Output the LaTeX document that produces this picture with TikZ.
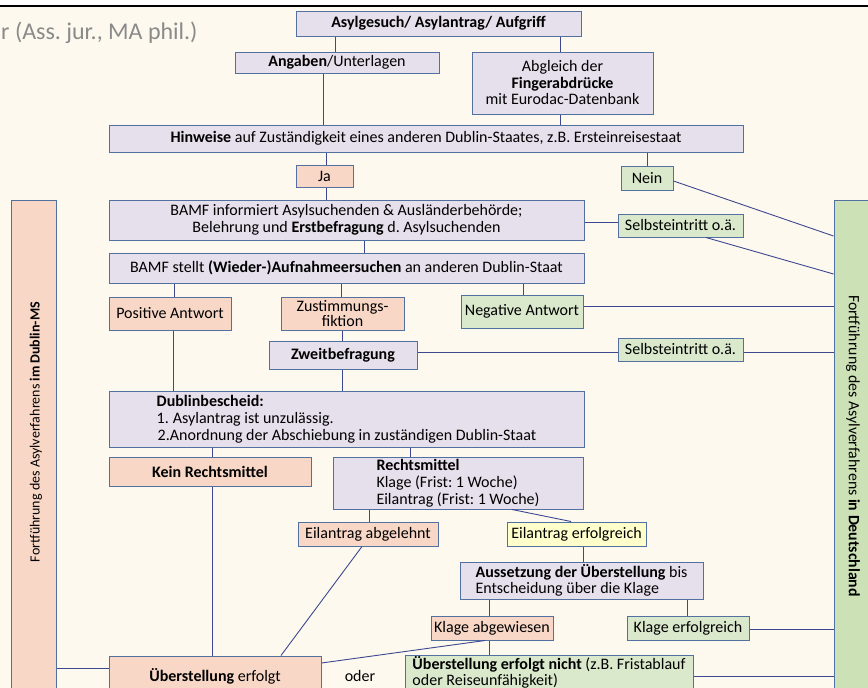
\documentclass[tikz,border=0pt]{standalone}
\usepackage{fontspec}
\setmainfont{Carlito}
\frenchspacing
\definecolor{bg}{HTML}{FEF9EF}
\definecolor{lav}{HTML}{E6E0EC}
\definecolor{sal}{HTML}{F8D7C6}
\definecolor{grn}{HTML}{DAE8CC}
\definecolor{grnbar}{HTML}{CDE1B6}
\definecolor{yel}{HTML}{FFFFCC}
\definecolor{bord}{HTML}{5270A0}
\definecolor{conn}{HTML}{3C4890}
\definecolor{hdr}{HTML}{8A8A8A}
\newcommand\vcon[3]{\draw[conline] (#1,0 |- #2.south) -- (#1,0 |- #3.north);}
\begin{document}
\frenchspacing
\begin{tikzpicture}[x=1pt,y=-1pt,
  box/.style={draw=bord, line width=1pt, inner sep=0pt, align=center, font=\fontsize{16}{16.5}\selectfont},
  lavbox/.style={box, fill=lav},
  salbox/.style={box, fill=sal},
  grnbox/.style={box, fill=grn},
  yelbox/.style={box, fill=yel},
  conline/.style={draw=conn, line width=0.9pt},
  bartext/.style={inner sep=0pt, font=\fontsize{14}{16}\selectfont}]
\useasboundingbox (0,0) rectangle (868,688);
\clip (0,0) rectangle (868,688);
\fill[white] (0,0) rectangle (868,7);
\fill[bg] (0,7) rectangle (868,688);
\draw[black, line width=2.5pt] (0,6) -- (868,6);
\node[anchor=west, inner sep=0pt, text=hdr, font=\fontsize{24}{28}\selectfont] (hdr) at (1,33) {r (Ass. jur., MA phil.)};

% side bars
\node[salbox, minimum width=45, minimum height=520] (lb) at (33.5,460) {};
\node[bartext, rotate=90] (lbt) at (36,432) {Fortführung des Asylverfahrens \textbf{im Dublin-MS}};
\node[box, fill=grnbar, minimum width=46, minimum height=520] (rb) at (857,460) {};
\node[bartext, rotate=-90, font=\fontsize{15.8}{17}\selectfont] (rbt) at (853,446) {Fortführung des Asylverfahrens \textbf{in Deutschland}};

% boxes
\node[lavbox, minimum width=285, minimum height=25] (asyl) at (438.5,23.5) {\textbf{Asylgesuch/ Asylantrag/ Aufgriff}};
\node[lavbox, minimum width=204, minimum height=21] (angaben) at (337,62.5) {\textbf{Angaben}/Unterlagen};
\node[lavbox, minimum width=181, minimum height=62] (abgleich) at (562.5,83) {Abgleich der\\\textbf{Fingerabdrücke}\\mit Eurodac-Datenbank};
\node[lavbox, minimum width=634, minimum height=27] (hinweise) at (426,138.5) {\textbf{Hinweise} auf Zuständigkeit eines anderen Dublin-Staates, z.B. Ersteinreisestaat};
\node[salbox, minimum width=57, minimum height=22] (ja) at (324.5,176) {Ja};
\node[grnbox, minimum width=52, minimum height=24] (nein) at (647,178) {Nein};
\node[lavbox, minimum width=475, minimum height=40] (bamf1) at (346.5,220) {BAMF informiert Asylsuchenden \& Ausländerbehörde;\\Belehrung und \textbf{Erstbefragung} d. Asylsuchenden};
\node[grnbox, minimum width=125, minimum height=23] (selbst1) at (680.5,225.5) {Selbsteintritt o.ä.};
\node[lavbox, minimum width=475, minimum height=30] (bamf2) at (346.5,268) {BAMF stellt \textbf{(Wieder-)Aufnahmeersuchen} an anderen Dublin-Staat};
\node[salbox, minimum width=122, minimum height=33] (pos) at (170,313.5) {Positive Antwort};
\node[salbox, minimum width=123, minimum height=33, font=\fontsize{16}{15.5}\selectfont] (zust) at (342.5,313.5) {Zustimmungs-\\fiktion};
\node[grnbox, minimum width=122, minimum height=33] (neg) at (522,311.5) {Negative Antwort};
\node[lavbox, minimum width=148, minimum height=28] (zweit) at (343,355) {\textbf{Zweitbefragung}};
\node[grnbox, minimum width=125, minimum height=23] (selbst2) at (680.5,349.5) {Selbsteintritt o.ä.};
\node[lavbox, minimum width=475, minimum height=56, align=left, font=\fontsize{16}{17}\selectfont] (dublin) at (346.5,419.5) {\textbf{Dublinbescheid:}\\1.\hspace{4pt}Asylantrag ist unzulässig.\\\hspace{1pt}2.Anordnung der Abschiebung in zuständigen Dublin-Staat};
\node[salbox, minimum width=202, minimum height=29] (kein) at (210,471.5) {\textbf{Kein Rechtsmittel}};
\node[lavbox, minimum width=250, minimum height=52, align=left, font=\fontsize{16}{17}\selectfont] (rechts) at (458,483) {\textbf{Rechtsmittel}\\Klage (Frist: 1 Woche)\\Eilantrag (Frist: 1 Woche)};
\node[salbox, minimum width=140, minimum height=24] (eilab) at (368,534) {Eilantrag abgelehnt};
\node[yelbox, minimum width=139, minimum height=24] (eilerf) at (576.5,534) {Eilantrag erfolgreich};
\node[lavbox, minimum width=243, minimum height=37, align=left, font=\fontsize{16}{15.5}\selectfont] (aussetz) at (581.5,580.5) {\textbf{Aussetzung der Überstellung} bis\\Entscheidung über die Klage};
\node[salbox, minimum width=122, minimum height=24] (klageab) at (492,628) {Klage abgewiesen};
\node[grnbox, minimum width=122, minimum height=24] (klageerf) at (688,628) {Klage erfolgreich};
\node[salbox, minimum width=212, minimum height=40] (ueber) at (215,676) {\textbf{Überstellung} erfolgt};
\node[grnbox, minimum width=288, minimum height=34, align=left, font=\fontsize{16}{16}\selectfont] (uebernicht) at (549,672) {\textbf{Überstellung erfolgt nicht} (z.B. Fristablauf\\oder Reiseunfähigkeit)};
\node[inner sep=0pt, font=\fontsize{16}{16.5}\selectfont] (oder) at (360,676) {oder};

% connectors
\vcon{335}{asyl}{angaben}
\vcon{560}{asyl}{abgleich}
\vcon{323}{angaben}{hinweise}
\vcon{560}{abgleich}{hinweise}
\vcon{326}{hinweise}{ja}
\vcon{647}{hinweise}{nein}
\vcon{326}{ja}{bamf1}
\vcon{364}{bamf1}{bamf2}
\vcon{174}{bamf2}{pos}
\vcon{341}{bamf2}{zust}
\vcon{523}{bamf2}{neg}
\vcon{173}{pos}{dublin}
\vcon{342}{zust}{zweit}
\vcon{342}{zweit}{dublin}
\vcon{212}{dublin}{kein}
\vcon{410}{dublin}{rechts}
\vcon{212}{kein}{ueber}
\vcon{369}{rechts}{eilab}
\vcon{583}{eilerf}{aussetz}
\vcon{489}{aussetz}{klageab}
\vcon{687}{aussetz}{klageerf}
\vcon{489}{klageab}{uebernicht}
\draw[conline] (nein.east |- 0,181) -- (rb.west |- 0,236);
\draw[conline] (bamf1.east |- 0,222) -- (selbst1.west |- 0,222);
\draw[conline] (706,0 |- selbst1.south) -- (rb.west |- 0,274);
\draw[conline] (neg.east |- 0,306) -- (rb.west |- 0,306);
\draw[conline] (zweit.east |- 0,352) -- (selbst2.west |- 0,352);
\draw[conline] (selbst2.east |- 0,352) -- (rb.west |- 0,352);
\draw[conline] (512,0 |- rechts.south) -- (571,0 |- eilerf.north);
\draw[conline] (362,0 |- eilab.south) -- (281,0 |- ueber.north);
\draw[conline] (485,0 |- klageab.south) -- (ueber.east |- 0,663);
\draw[conline] (klageerf.east |- 0,629) -- (rb.west |- 0,629);
\draw[conline] (uebernicht.east |- 0,676) -- (rb.west |- 0,676);
\draw[conline] (lb.east |- 0,668) -- (ueber.west |- 0,668);
\end{tikzpicture}
\end{document}
